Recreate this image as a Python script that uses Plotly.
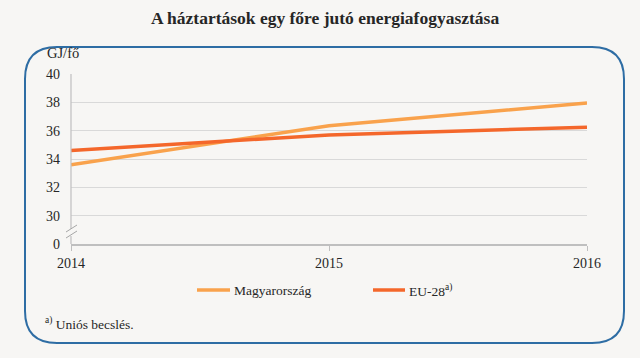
import plotly.graph_objects as go

years = [2014, 2015, 2016]
magyar = [33.6, 36.35, 37.95]
eu28 = [34.6, 35.7, 36.25]
y_tickvals = [28, 30, 32, 34, 36, 38, 40]
y_ticktext = ["0", "30", "32", "34", "36", "38", "40"]

W, H = 640, 358
L, R, T, B = 71, 587, 74, 244

def px(x):
    return (x - L) / (R - L)

def py(y):
    return (B - y) / (B - T)

BG = "#f7f6f4"
FONT = "Liberation Serif"
MAG_C = "#F9A24C"
EU_C = "#F4672B"
TXT = "#262626"

fig = go.Figure()
fig.add_trace(go.Scatter(x=years, y=magyar, mode="lines", name="Magyarország",
                         line=dict(color=MAG_C, width=3.5)))
fig.add_trace(go.Scatter(x=years, y=eu28, mode="lines", name="EU-28<sup>a)</sup>",
                         line=dict(color=EU_C, width=3.5)))

shapes = []
# rounded border
x0, x1, y0, y1, r = 25, 624, 47, 343, 32
rx = r / (R - L)
ry = r / (B - T)
path = (f"M {px(x0)+rx},{py(y0)} L {px(x1)-rx},{py(y0)} Q {px(x1)},{py(y0)} {px(x1)},{py(y0)-ry} "
        f"L {px(x1)},{py(y1)+ry} Q {px(x1)},{py(y1)} {px(x1)-rx},{py(y1)} "
        f"L {px(x0)+rx},{py(y1)} Q {px(x0)},{py(y1)} {px(x0)},{py(y1)+ry} "
        f"L {px(x0)},{py(y0)-ry} Q {px(x0)},{py(y0)} {px(x0)+rx},{py(y0)} Z")
shapes.append(dict(type="path", xref="paper", yref="paper", path=path,
                   line=dict(color="#2E6DA4", width=2), layer="below"))
# y axis line with break
shapes.append(dict(type="line", xref="paper", yref="paper", x0=0, x1=0, y0=py(74), y1=py(229),
                   line=dict(color="#BFBFBF", width=1.2)))
shapes.append(dict(type="line", xref="paper", yref="paper", x0=0, x1=0, y0=py(236), y1=py(244),
                   line=dict(color="#BFBFBF", width=1.2)))
for dy in (0, 6):
    shapes.append(dict(type="line", xref="paper", yref="paper",
                       x0=px(66), y0=py(232 + dy), x1=px(77), y1=py(225 + dy),
                       line=dict(color="#A6A6A6", width=1)))
# legend samples
shapes.append(dict(type="line", xref="paper", yref="paper", x0=px(197), x1=px(230),
                   y0=py(290), y1=py(290), line=dict(color=MAG_C, width=3.5)))
shapes.append(dict(type="line", xref="paper", yref="paper", x0=px(373), x1=px(405),
                   y0=py(290), y1=py(290), line=dict(color=EU_C, width=3.5)))

annotations = [
    dict(text="<b>A háztartások egy főre jutó energiafogyasztása</b>", xref="paper", yref="paper",
         x=px(325), y=py(18), xanchor="center", yanchor="middle", showarrow=False,
         font=dict(family=FONT, size=17.5, color=TXT)),
    dict(text="GJ/fő", xref="paper", yref="paper", x=px(45), y=py(53),
         xanchor="left", yanchor="middle", showarrow=False,
         font=dict(family=FONT, size=14.5, color=TXT)),
    dict(text="Magyarország", xref="paper", yref="paper", x=px(232), y=py(290),
         xanchor="left", yanchor="middle", showarrow=False,
         font=dict(family=FONT, size=13.5, color=TXT)),
    dict(text="EU-28<sup>a)</sup>", xref="paper", yref="paper", x=px(407), y=py(290),
         xanchor="left", yanchor="middle", showarrow=False,
         font=dict(family=FONT, size=13.5, color=TXT)),
    dict(text="<sup>a)</sup> Uniós becslés.", xref="paper", yref="paper", x=px(43), y=py(323),
         xanchor="left", yanchor="middle", showarrow=False,
         font=dict(family=FONT, size=13.5, color=TXT)),
]

fig.update_layout(
    width=W, height=H,
    margin=dict(l=L, r=W - R, t=T, b=H - B),
    paper_bgcolor=BG, plot_bgcolor=BG,
    showlegend=False,
    shapes=shapes, annotations=annotations,
    font=dict(family=FONT, size=14, color=TXT),
    xaxis=dict(range=[2014, 2016], tickvals=years, ticktext=[str(y) for y in years],
               showgrid=False, zeroline=False, showline=True, linecolor="#BFBFBF", linewidth=1.5,
               ticks="outside", ticklen=5, tickcolor="#BFBFBF", fixedrange=True,
               tickfont=dict(family=FONT, size=14, color=TXT)),
    yaxis=dict(range=[28, 40], tickvals=y_tickvals, ticktext=y_ticktext,
               showgrid=True, gridcolor="#D9D9D9", gridwidth=1, zeroline=False,
               showline=False, ticks="", ticklabelstandoff=10, fixedrange=True,
               tickfont=dict(family=FONT, size=14, color=TXT)),
)

fig.write_html("out.html", config={"displayModeBar": False},
               post_script="document.body.style.margin='0';document.body.style.background='#f7f6f4';")
